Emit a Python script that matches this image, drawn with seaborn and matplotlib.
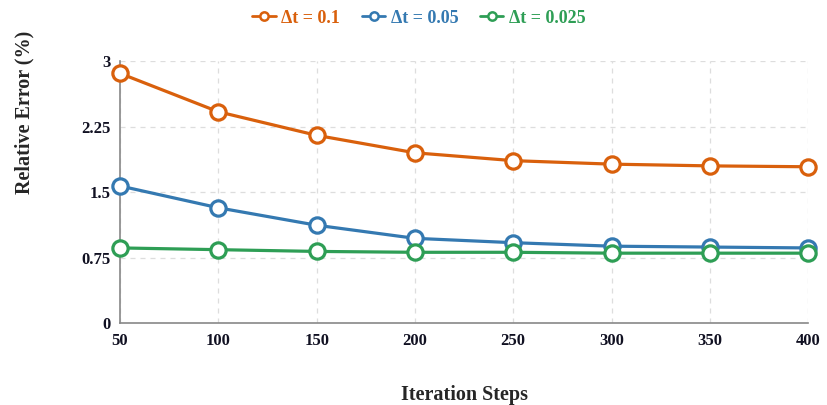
import matplotlib
matplotlib.use("Agg")
import matplotlib.pyplot as plt
import pandas as pd
import seaborn as sns
from matplotlib.lines import Line2D

steps = [50, 100, 150, 200, 250, 300, 350, 400]
err_dt_01 = [2.86, 2.42, 2.15, 1.95, 1.86, 1.82, 1.80, 1.79]
err_dt_005 = [1.57, 1.32, 1.12, 0.97, 0.92, 0.88, 0.87, 0.86]
err_dt_0025 = [0.86, 0.84, 0.82, 0.81, 0.81, 0.80, 0.80, 0.80]
series_labels = ["\u0394t = 0.1", "\u0394t = 0.05", "\u0394t = 0.025"]
y_ticks = [0, 0.75, 1.5, 2.25, 3]
y_tick_labels = ["0", "0.75", "1.5", "2.25", "3"]

colors = ["#d9600c", "#3479b1", "#2e9e55"]


def main() -> None:
    sns.set_theme(style="white")
    plt.rcParams["font.family"] = ["Liberation Serif", "DejaVu Serif"]
    plt.rcParams["font.weight"] = "bold"

    df = pd.DataFrame({
        "step": steps * 3,
        "error": err_dt_01 + err_dt_005 + err_dt_0025,
        "series": [series_labels[0]] * 8 + [series_labels[1]] * 8 + [series_labels[2]] * 8,
    })

    fig = plt.figure(figsize=(8.28, 4.05), dpi=100)
    ax = fig.add_axes([0.145, 0.2025, 0.831, 0.6465])

    sns.lineplot(
        data=df, x="step", y="error", hue="series", palette=colors,
        hue_order=series_labels, marker="o", markersize=11,
        markerfacecolor="white", markeredgewidth=2.3, linewidth=2.3,
        ax=ax, legend=False, clip_on=False, zorder=3,
    )
    for line, c in zip(ax.get_lines(), colors):
        line.set_markeredgecolor(c)

    ax.set_xlim(50, 400)
    ax.set_ylim(0, 3)
    ax.set_xticks(steps)
    ax.set_yticks(y_ticks)
    ax.set_yticklabels(y_tick_labels)
    ax.grid(True, linestyle=(0, (4, 4)), color="#dddddd", linewidth=0.9)
    ax.set_axisbelow(True)
    for side in ["top", "right"]:
        ax.spines[side].set_visible(False)
    for side in ["left", "bottom"]:
        ax.spines[side].set_color("#888888")
        ax.spines[side].set_linewidth(1.2)
    ax.tick_params(axis="both", direction="out", length=5, width=1.2,
                   color="#888888", labelsize=12, pad=2, labelcolor="#111122")
    for lbl in ax.get_xticklabels() + ax.get_yticklabels():
        lbl.set_fontweight("bold")

    ax.set_xlabel("Iteration Steps", fontsize=14.5, fontweight="bold", labelpad=26)
    ax.set_ylabel("Relative Error (%)", fontsize=14.5, fontweight="bold")
    ax.yaxis.set_label_coords(-0.125, 0.805)

    handles = [
        Line2D([0], [0], color=c, marker="o", markersize=6, markerfacecolor="white",
               markeredgewidth=1.8, linewidth=2)
        for c in colors
    ]
    leg = fig.legend(handles, series_labels, loc="center", bbox_to_anchor=(0.506, 0.955),
                     ncol=3, frameon=False, handlelength=1.3,
                     handletextpad=0.3, columnspacing=1.2,
                     prop={"family": "Liberation Serif", "weight": "bold", "size": 13})
    for text, c in zip(leg.get_texts(), colors):
        text.set_color(c)

    fig.savefig("out.png", dpi=100)
    plt.close(fig)


if __name__ == "__main__":
    main()
